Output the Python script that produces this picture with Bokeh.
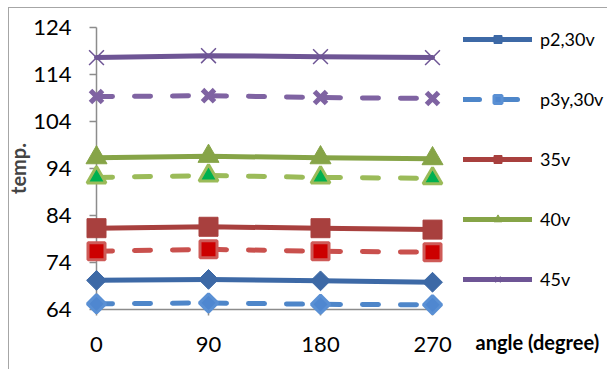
import math
from bokeh.plotting import figure
from bokeh.models import (FixedTicker, Legend, LegendItem, Range1d)
from bokeh.core.properties import value
from bokeh.embed import file_html
from bokeh.resources import INLINE

angles = [0, 90, 180, 270]
x_ticks = [0, 90, 180, 270]
y_ticks = [64, 74, 84, 94, 104, 114, 124]

p2_30v = [70.2, 70.4, 70.1, 69.8]
p3y_30v = [65.2, 65.4, 65.1, 65.0]
s35v = [81.3, 81.6, 81.3, 81.0]
s35v_dash = [76.4, 76.8, 76.4, 76.2]
s40v = [96.3, 96.6, 96.3, 96.1]
s40v_dash = [92.1, 92.5, 92.1, 91.9]
s45v = [117.6, 118.0, 117.8, 117.6]
s45v_dash = [109.3, 109.5, 109.1, 108.9]

x_title = ["angle (degree)"]

FONT = "Lato"
AX = "#8C8C8C"

# frame spans to the right edge so the legend (drawn inside the frame) is not clipped
p = figure(width=607, height=369, output_backend="svg", toolbar_location=None,
           x_range=Range1d(0, 410.6), y_range=Range1d(64, 124),
           min_border_left=96, min_border_right=0, min_border_top=27, min_border_bottom=60,
           background_fill_color="white", border_fill_alpha=0, outline_line_alpha=0)
p.styles = {"background": "linear-gradient(#A6A6A6,#A6A6A6) 8px 7px / 100% 1px no-repeat, "
                          "linear-gradient(#A6A6A6,#A6A6A6) 8px 7px / 1px 100% no-repeat, white"}
p.grid.visible = False

p.xaxis.ticker = FixedTicker(ticks=x_ticks)
p.yaxis.ticker = FixedTicker(ticks=y_ticks)
p.xaxis.bounds = (0, 270)
for ax in (p.xaxis, p.yaxis):
    ax.axis_line_color = AX
    ax.axis_line_width = 1.5
    ax.major_tick_line_color = AX
    ax.major_tick_line_width = 1.5
    ax.major_tick_in = 0
    ax.minor_tick_line_alpha = 0
    ax.major_label_text_font = FONT
    ax.major_label_text_font_size = "22px"
    ax.major_label_text_color = "black"
p.xaxis.major_tick_out = 6
p.yaxis.major_tick_out = 7
p.xaxis.major_label_standoff = 21
p.yaxis.major_label_standoff = 18
p.yaxis.axis_label = "temp."
p.yaxis.axis_label_text_font = FONT
p.yaxis.axis_label_text_font_style = "bold"
p.yaxis.axis_label_text_font_size = "20px"
p.yaxis.axis_label_standoff = 0

LW = 5
DASH = "16 22"

def series(y, color, dash, marker, msize, fill, mline, mlw, angle=0.0):
    r_line = p.line(angles, y, line_color=color, line_width=LW, line_dash=dash,
                    line_cap="round", line_join="round", level="overlay")
    r_mark = p.scatter(angles, y, marker=marker, size=msize, angle=angle,
                       fill_color=fill, line_color=mline, line_width=mlw, level="overlay")
    return [r_line, r_mark]

r_p3y = series(p3y_30v, "#4E86C9", DASH, "square", 13, "#4F87D0", "#5A90D4", 3, math.pi / 4)
r_p2 = series(p2_30v, "#3D69A6", "solid", "square", 14, "#3D69A6", "#3D69A6", 1, math.pi / 4)
r_35d = series(s35v_dash, "#C9504D", DASH, "square", 17, "#CC0000", "#CE5A57", 3)
r_35 = series(s35v, "#A8403E", "solid", "square", 19, "#A8403E", "#A8403E", 1)
r_40d = series(s40v_dash, "#9BBB59", DASH, "triangle", 19, "#00B050", "#9BBB59", 3)
r_40 = series(s40v, "#86A447", "solid", "triangle", 21, "#86A447", "#86A447", 1)
r_45d = series(s45v_dash, "#7F63A2", DASH, "x", 17, "#7F63A2", "#7F63A2", 5)
r_45 = series(s45v, "#6E5595", "solid", "x", 21, "#6E5595", "#6E5595", 1.5)

legend = Legend(items=[
    LegendItem(label="p2,30v", renderers=r_p2),
    LegendItem(label="p3y,30v", renderers=r_p3y),
    LegendItem(label="35v", renderers=r_35),
    LegendItem(label="40v", renderers=r_40),
    LegendItem(label="45v", renderers=r_45),
], location=(367, 19), orientation="vertical",
   glyph_width=69, glyph_height=20, label_height=20, spacing=38,
   label_standoff=8, padding=0, margin=0,
   border_line_alpha=0, background_fill_alpha=0,
   label_text_font=FONT, label_text_font_size="18px", label_text_color="black")
p.add_layout(legend, "center")

# x-axis title, right of the axis at tick-label height
p.text(x=[304.6], y=[56.98], text=x_title, text_font=value(FONT),
       text_font_size="20px", text_font_style="bold", text_color="black",
       text_baseline="middle", text_align="left", level="overlay")

open("out.html", "w").write(file_html(p, INLINE))
